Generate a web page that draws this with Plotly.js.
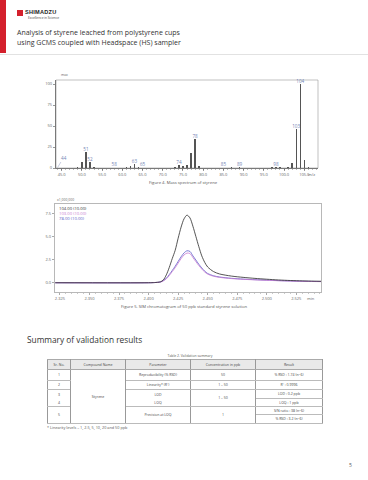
<!DOCTYPE html>
<html><head><meta charset="utf-8">
<script src="https://cdn.plot.ly/plotly-3.0.1.min.js"></script>
<style>
body{margin:0;width:368px;height:480px;position:relative;background:#fff;font-family:"Open Sans","Noto Sans",sans-serif;overflow:hidden;color:#333}
.abs{position:absolute;white-space:nowrap}
#redbar{left:0;top:0;width:6px;height:53px;background:#d4202c}
#hline{left:0;top:54px;width:368px;height:1px;background:#e2e2e2}
#logoicon{left:17px;top:10px;width:6px;height:6px;background:#d4202c}
#logotext{left:25px;top:8.5px;font-size:5.6px;font-weight:bold;letter-spacing:0.25px;color:#222;font-family:"Liberation Sans",Arial,sans-serif}
#logosub{left:28px;top:15.5px;font-size:3.2px;color:#444}
.title{left:17px;font-size:7px;color:#333}
.cap{font-size:4.2px;color:#555;transform:translateX(-50%)}
#heading{left:27px;top:334px;font-size:8.3px;color:#333}
#tabcap{left:190px;top:352.5px;font-size:3.4px;color:#555;transform:translateX(-50%)}
table{position:absolute;left:47px;top:359px;border-collapse:collapse;font-size:3.5px;color:#444;table-layout:fixed}
td{padding:0;text-align:center;vertical-align:middle;border-left:0.6px solid #999;border-right:0.6px solid #999;border-bottom:0.5px solid #bbb;line-height:1}
tr.head td{background:#e9e9e9;border-top:1px solid #aaa;border-bottom:0.6px solid #aaa}
td.nb{border-bottom:none}
#foot{left:47px;top:425px;font-size:3.8px;color:#555}
#pnum{left:349px;top:462px;font-size:5px;color:#555}
#ms{position:absolute;left:0;top:60px;width:368px;height:130px}
#sim{position:absolute;left:0;top:196px;width:368px;height:110px}
</style></head><body>
<div class="abs" id="redbar"></div>
<div class="abs" id="hline"></div>
<div class="abs" id="logoicon"></div>
<div class="abs" id="logotext">SHIMADZU</div>
<div class="abs" id="logosub">Excellence in Science</div>
<div class="abs title" style="top:28px">Analysis of styrene leached from polystyrene cups</div>
<div class="abs title" style="top:38px">using GCMS coupled with Headspace (HS) sampler</div>
<div id="ms"></div>
<div class="abs cap" style="left:183px;top:179.5px">Figure 4. Mass spectrum of styrene</div>
<div id="sim"></div>
<div class="abs cap" style="left:184px;top:303.5px">Figure 5. SIM chromatogram of 50 ppb standard styrene solution</div>
<div class="abs" id="heading">Summary of validation results</div>
<div class="abs" id="tabcap">Table 2. Validation summary</div>
<table id="tbl"></table>
<div class="abs" id="foot">* Linearity levels – 1, 2.5, 5, 10, 20 and 50 ppb</div>
<div class="abs" id="pnum">5</div>
<script>
// ---- Mass spectrum data ----
var mzValues = [44,49,50,51,52,53,55,56,58,61,62,63,64,65,69,72,73,74,75,76,77,78,79,85,86,87,89,91,96,97,98,99,100,101,102,103,104,105,106];
var intensities = [0.6,1.0,7.5,19,7.5,1.5,0.5,0.5,0.6,0.8,2.0,4.5,0.8,0.6,0.5,0.6,1.5,3.6,2.4,3.6,17.5,34,2.4,0.6,0.5,0.9,1.0,0.5,0.5,0.9,1.0,0.8,0.6,1.2,6.5,46,100,10,0.8];
var labeledMz = [51,52,58,63,65,74,78,85,89,98,103,104];
var msYTicks = [0,25,50,75,100];
var msXTicks = [45,50,55,60,65,70,75,80,85,90,95,100,105];

// ---- SIM chromatogram data ----
var times = [2.321,2.400,2.405,2.410,2.4125,2.415,2.4175,2.420,2.4225,2.425,2.4275,2.430,2.4325,2.435,2.4375,2.440,2.4425,2.445,2.4475,2.450,2.455,2.460,2.470,2.480,2.490,2.500,2.510,2.520,2.530,2.540,2.546];
var ion104 = [0,0,0.02,0.1,0.3,0.85,1.65,2.6,3.5,4.8,6.0,6.9,7.3,7.0,6.1,5.0,3.9,2.9,2.2,1.7,1.2,0.95,0.72,0.58,0.47,0.38,0.3,0.24,0.2,0.17,0.16];
var ion103 = [0,0,0.02,0.07,0.2,0.42,0.78,1.2,1.62,2.12,2.6,3.0,3.2,3.15,2.72,2.28,1.86,1.48,1.16,0.93,0.7,0.58,0.45,0.37,0.31,0.26,0.22,0.18,0.15,0.13,0.12];
var ion78 = [0,0,0.02,0.08,0.24,0.48,0.88,1.32,1.78,2.3,2.8,3.22,3.45,3.38,2.9,2.45,2.0,1.6,1.25,1.0,0.75,0.62,0.48,0.39,0.33,0.28,0.23,0.19,0.16,0.14,0.13];
var seriesNames = ['104.00 (10.00)','103.00 (10.00)','78.00 (10.00)'];
var seriesColors = ['#2a2a2a','#c77ad0','#5c5cc8'];
var simYTicks = [0,2.5,5,7.5];

// ---- Table data ----
var tableHeaders = ['Sr. No.','Compound Name','Parameter','Concentration in ppb','Result'];
var srNos = ['1','2','3','4','5'];
var compoundName = 'Styrene';
var parameters = ['Reproducibility (% RSD)','Linearity* (R²)','LOD','LOQ','Precision at LOQ'];
var concentrations = ['50','1 – 50','1 – 50','1'];
var results = ['% RSD : 1.74 (n=6)','R² : 0.9996','LOD : 0.2 ppb','LOQ : 1 ppb','S/N ratio : 38 (n=6)','% RSD : 3.2 (n=6)'];

var tickFont = {family:'Open Sans, sans-serif', size:4, color:'#666'};
var labelColor = '#7384b4';

// ---- Mass spectrum chart ----
var labY = labeledMz.map(function(m){return intensities[mzValues.indexOf(m)];});
Plotly.newPlot('ms', [
  {type:'bar', x:mzValues, y:intensities, width:0.32, marker:{color:'#555', line:{width:0}}, hoverinfo:'none'},
  {type:'scatter', mode:'text', x:labeledMz, y:labY, text:labeledMz.map(String), textposition:'top center',
   textfont:{family:'Open Sans, sans-serif', size:4.6, color:labelColor}, cliponaxis:false, hoverinfo:'none'}
], {
  width:368, height:130, margin:{l:56, r:50, t:20, b:22}, showlegend:false,
  paper_bgcolor:'rgba(0,0,0,0)', plot_bgcolor:'#fff', bargap:0,
  xaxis:{range:[43.6,108.4], tickvals:msXTicks, ticktext:msXTicks.map(function(v){return v.toFixed(1);}),
    ticks:'outside', ticklen:2.5, tickwidth:0.5, tickcolor:'#333', showgrid:false, zeroline:false,
    showline:true, linecolor:'#333', linewidth:0.6, tickfont:tickFont,
    minor:{dtick:1, tick0:45, ticks:'outside', ticklen:1.3, tickwidth:0.4, tickcolor:'#555', showgrid:false}},
  yaxis:{range:[0,104.8], tickvals:msYTicks, ticktext:msYTicks.map(String), ticks:'outside', ticklen:2.5, tickwidth:0.5,
    tickcolor:'#333', showgrid:false, zeroline:false, showline:true, linecolor:'#333', linewidth:0.6, tickfont:tickFont},
  shapes:[{type:'rect', xref:'paper', yref:'paper', x0:0, x1:1, y0:0, y1:1, line:{color:'#999', width:0.6}, layer:'below'}],
  annotations:[
    {x:44, y:0.6, xref:'x', yref:'y', text:'44', showarrow:true, arrowhead:0, arrowwidth:0.4, arrowcolor:labelColor,
     ax:6, ay:-10, font:{family:'Open Sans, sans-serif', size:4.6, color:labelColor}},
    {xref:'paper', yref:'paper', x:0.01, y:1.0, yanchor:'bottom', xanchor:'left', yshift:1, text:'max', showarrow:false,
     font:{family:'Open Sans, sans-serif', size:3.4, color:'#666'}},
    {xref:'paper', yref:'paper', x:0.995, y:0, yanchor:'top', xanchor:'right', yshift:-2.4, text:'m/z', showarrow:false,
     font:{family:'Open Sans, sans-serif', size:4, color:'#666'}}
  ]
}, {staticPlot:true, displayModeBar:false});

// ---- SIM chromatogram chart ----
var simSeries = [ion104, ion103, ion78];
var simTraces = [2,1,0].map(function(i){
  return {type:'scatter', mode:'lines', x:times, y:simSeries[i], line:{color:seriesColors[i], width:0.8, shape:'spline', smoothing:0.8}, hoverinfo:'none'};
});
var legendAnn = seriesNames.map(function(n,i){
  return {xref:'paper', yref:'paper', x:0.008, y:1, xanchor:'left', yanchor:'top', yshift:-0.3 - i*4.9, text:n, showarrow:false,
    font:{family:'Open Sans, sans-serif', size:4.2, color:seriesColors[i]}};
});
legendAnn.push({xref:'paper', yref:'paper', x:0, y:1, xanchor:'left', yanchor:'bottom', yshift:0.3, text:'x1,000,000', showarrow:false,
  font:{family:'Open Sans, sans-serif', size:3.4, color:'#666'}});
legendAnn.push({xref:'paper', yref:'paper', x:0.985, y:0, xanchor:'right', yanchor:'top', yshift:-2.4, text:'min', showarrow:false,
  font:{family:'Open Sans, sans-serif', size:4, color:'#666'}});
Plotly.newPlot('sim', simTraces, {
  width:368, height:110, margin:{l:55, r:47.3, t:8.3, b:14.3}, showlegend:false,
  paper_bgcolor:'rgba(0,0,0,0)', plot_bgcolor:'#fff',
  xaxis:{range:[2.3208,2.5459], tick0:2.325, dtick:0.025, tickformat:'.3f', ticks:'outside', ticklen:2.5, tickwidth:0.5,
    tickcolor:'#555', showgrid:false, zeroline:false, showline:true, mirror:true, linecolor:'#888', linewidth:0.6, tickfont:tickFont,
    minor:{dtick:0.005, ticks:'outside', ticklen:1.3, tickwidth:0.4, tickcolor:'#777', showgrid:false}},
  yaxis:{range:[-1,8.5], tickvals:simYTicks, ticktext:simYTicks.map(function(v){return v.toFixed(1);}), ticks:'outside', ticklen:2.5,
    tickwidth:0.5, tickcolor:'#555', showgrid:false, zeroline:false, showline:true, mirror:true, linecolor:'#888', linewidth:0.6, tickfont:tickFont},
  annotations:legendAnn
}, {staticPlot:true, displayModeBar:false});

// ---- Table ----
var colW = [23,55,65,65,67];
var rowH = [10,11,9,9,8,8,9];
var h = '<colgroup>' + colW.map(function(w){return '<col style="width:'+w+'px">';}).join('') + '</colgroup>';
h += '<tr class="head" style="height:'+rowH[0]+'px">' + tableHeaders.map(function(t){return '<td>'+t+'</td>';}).join('') + '</tr>';
h += '<tr style="height:'+rowH[1]+'px"><td>'+srNos[0]+'</td><td rowspan="6">'+compoundName+'</td><td>'+parameters[0]+'</td><td>'+concentrations[0]+'</td><td>'+results[0]+'</td></tr>';
h += '<tr style="height:'+rowH[2]+'px"><td>'+srNos[1]+'</td><td>'+parameters[1]+'</td><td>'+concentrations[1]+'</td><td>'+results[1]+'</td></tr>';
h += '<tr style="height:'+rowH[3]+'px"><td class="nb">'+srNos[2]+'</td><td class="nb">'+parameters[2]+'</td><td rowspan="2">'+concentrations[2]+'</td><td>'+results[2]+'</td></tr>';
h += '<tr style="height:'+rowH[4]+'px"><td>'+srNos[3]+'</td><td>'+parameters[3]+'</td><td>'+results[3]+'</td></tr>';
h += '<tr style="height:'+rowH[5]+'px"><td rowspan="2">'+srNos[4]+'</td><td rowspan="2">'+parameters[4]+'</td><td rowspan="2">'+concentrations[3]+'</td><td>'+results[4]+'</td></tr>';
h += '<tr style="height:'+rowH[6]+'px"><td>'+results[5]+'</td></tr>';
document.getElementById('tbl').innerHTML = h;
</script>
</body></html>
